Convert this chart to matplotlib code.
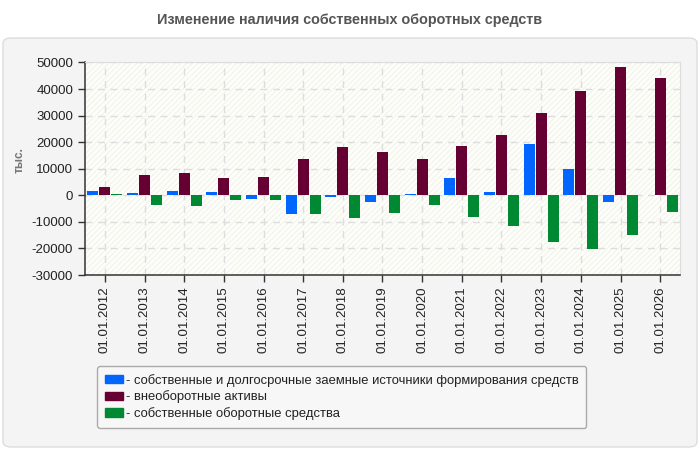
import matplotlib
matplotlib.use("Agg")
import matplotlib.pyplot as plt
from matplotlib.patches import FancyBboxPatch, Rectangle, Patch
import numpy as np

plt.rcParams['font.family'] = ['Liberation Sans', 'DejaVu Sans']
plt.rcParams['hatch.linewidth'] = 0.6
plt.rcParams['hatch.color'] = '#eeeeee'

categories = ["01.01.2012", "01.01.2013", "01.01.2014", "01.01.2015", "01.01.2016",
              "01.01.2017", "01.01.2018", "01.01.2019", "01.01.2020", "01.01.2021",
              "01.01.2022", "01.01.2023", "01.01.2024", "01.01.2025", "01.01.2026"]
own_longterm = [1600, 900, 1600, 1250, -1400, -7000, -600, -2500, 500, 6500,
                1250, 19300, 9900, -2500, 100]
noncurrent = [3100, 7600, 8400, 6500, 6900, 13700, 18200, 16300, 13700, 18500,
              22700, 31000, 39200, 48200, 44100]
working_cap = [500, -3600, -4000, -1750, -1750, -7000, -8500, -6600, -3600, -8100,
               -11500, -17500, -20200, -14900, -6300]
series_names = ["- собственные и долгосрочные заемные источники формирования средств",
                "- внеоборотные активы",
                "- собственные оборотные средства"]
colors = ["#0066ff", "#660033", "#008833"]
yticks = [-30000, -20000, -10000, 0, 10000, 20000, 30000, 40000, 50000]

fig = plt.figure(figsize=(7, 4.5), dpi=100)
fig.patch.set_facecolor('white')

panel = FancyBboxPatch((3/700, 3/450), 694/700, 409/450,
                       boxstyle="round,pad=0,rounding_size=0.012",
                       transform=fig.transFigure, facecolor='#f4f4f4',
                       edgecolor='#dddddd', linewidth=1, zorder=-10)
fig.patches.append(panel)

fig.text(350/700, 1 - 20/450, "Изменение наличия собственных оборотных средств",
         ha='center', va='center', fontsize=10.4, fontweight='bold', color='#555555')

ax = fig.add_axes([85/700, 1 - 275/450, 595/700, (275 - 62.5)/450])
ax.set_facecolor('#fefef8')
ax.add_patch(Rectangle((0, 0), 1, 1, transform=ax.transAxes, facecolor='none',
                       edgecolor='#eeeeee', hatch='//////', linewidth=0, zorder=0))

x = np.arange(len(categories))
w = 0.28
off = 0.3
ax.bar(x - off, own_longterm, w, color=colors[0], zorder=3)
ax.bar(x, noncurrent, w, color=colors[1], zorder=3)
ax.bar(x + off, working_cap, w, color=colors[2], zorder=3)

ax.set_xlim(-0.5, len(categories) - 0.5)
ax.set_ylim(-30000, 50000)
ax.set_yticks(yticks)
ax.set_yticklabels([str(v) for v in yticks], fontsize=9.5, color='#222222')
ax.set_xticks(x)
ax.set_xticklabels(categories, rotation=90, fontsize=9.5, color='#222222')
ax.tick_params(axis='both', direction='out', length=5, color='#333333', width=1)

ax.grid(True, color='#dddddd', linestyle=(0, (5, 4)), linewidth=1, zorder=1)
ax.set_axisbelow(True)
for s in ['top', 'right']:
    ax.spines[s].set_color('#dddddd')
for s in ['left', 'bottom']:
    ax.spines[s].set_color('#333333')
    ax.spines[s].set_linewidth(1.1)

fig.text(20/700, 1 - 160/450, "тыс.", rotation=90, ha='center', va='center',
         fontsize=8.5, fontweight='bold', color='#777777')

handles = [Patch(facecolor=c, edgecolor=c) for c in colors]
leg = fig.legend(handles, series_names, loc='upper left',
                 bbox_to_anchor=(97/700, 1 - 366/450), borderaxespad=0,
                 fontsize=9.4, frameon=True, fancybox=True, handlelength=1.4,
                 handleheight=0.6, handletextpad=0.2, labelspacing=0.28,
                 borderpad=0.6, labelcolor='#222222')
leg.get_frame().set_facecolor('#f7f7f7')
leg.get_frame().set_edgecolor('#aaaaaa')
leg.get_frame().set_alpha(1)

fig.savefig("out.png", dpi=100, facecolor=fig.get_facecolor())
